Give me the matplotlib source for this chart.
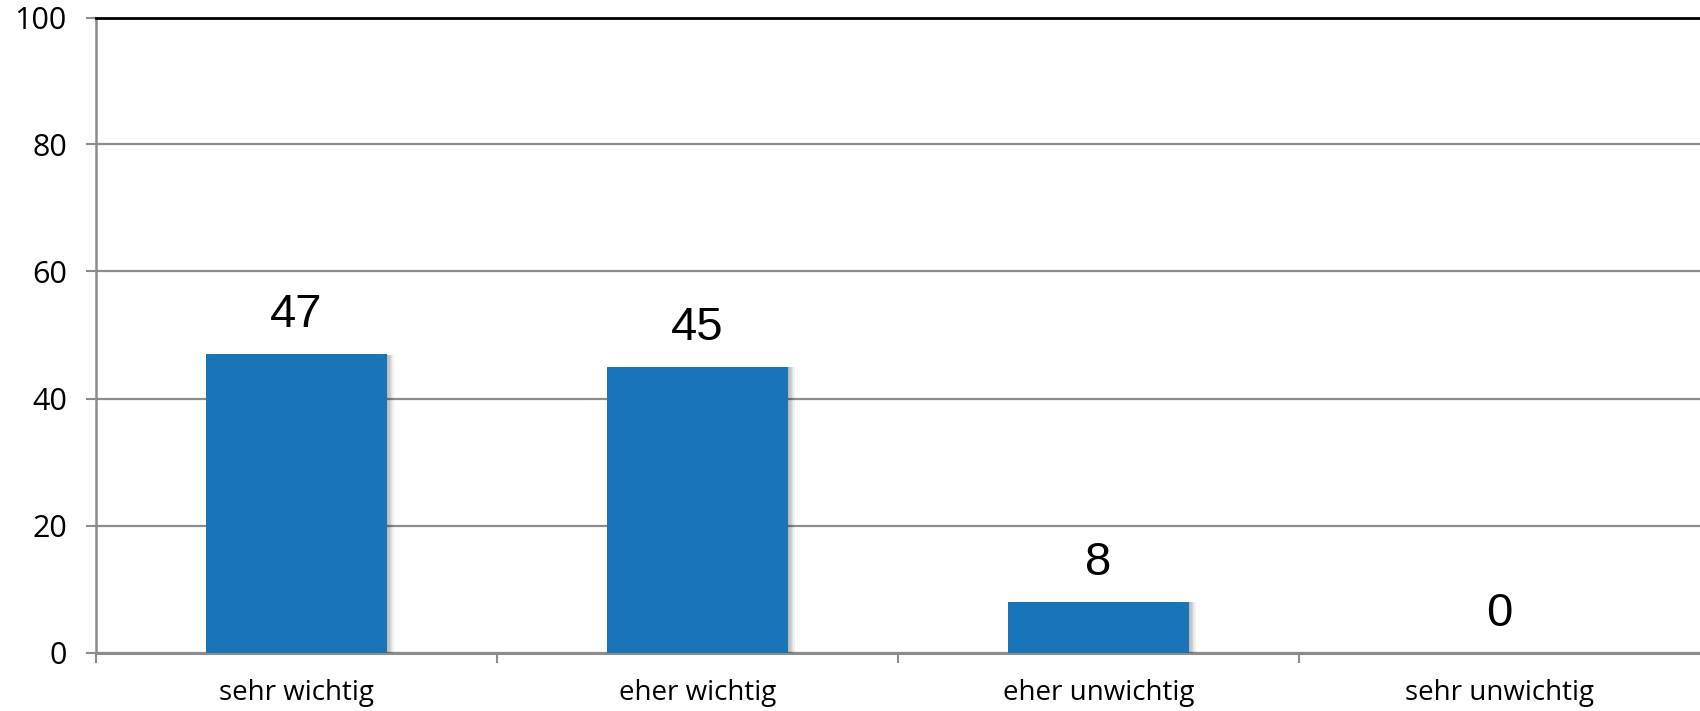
import matplotlib
matplotlib.use("Agg")
import matplotlib.pyplot as plt
import matplotlib.patheffects as pe
import numpy as np

categories = ["sehr wichtig", "eher wichtig", "eher unwichtig", "sehr unwichtig"]
values = [47, 45, 8, 0]
y_ticks = [0, 20, 40, 60, 80, 100]

plt.rcParams["font.family"] = ["Open Sans", "DejaVu Sans"]

fig = plt.figure(figsize=(17, 7.11), dpi=100)
ax = fig.add_axes([96 / 1700, 1 - 652.5 / 711, 1 - 96 / 1700, (652.5 - 17.5) / 711])

x = np.arange(len(categories))
bar_color = "#1a74b8"
shadow = [pe.SimplePatchShadow(offset=(d, -0.5), shadow_rgbFace="#000000", alpha=0.06)
          for d in (1, 2, 3, 4, 5)] + [pe.Normal()]
bars = ax.bar(x, values, width=0.45, color=bar_color, zorder=3)
for b in bars:
    b.set_path_effects(shadow)

for xi, v in zip(x, values):
    ax.annotate(str(v), (xi, v), xytext=(0, 12), textcoords="offset points",
                ha="center", va="bottom", fontsize=34, color="#000000",
                family=["Liberation Sans", "DejaVu Sans"])

ax.set_xlim(-0.5, len(categories) - 0.5)
ax.set_ylim(0, 100)
ax.set_yticks(y_ticks)
ax.set_yticklabels([str(t) for t in y_ticks], fontsize=22)
ax.yaxis.grid(True, color="#8c8c8c", linewidth=1.6, zorder=1)
ax.set_axisbelow(True)

# category labels centred, boundary ticks between categories
ax.set_xticks(x)
ax.set_xticklabels(categories, fontsize=20)
ax.tick_params(axis="x", length=0, pad=19)
ax.set_xticks(np.arange(len(categories)) - 0.5, minor=True)
ax.tick_params(axis="x", which="minor", length=7, width=1.5, color="#8c8c8c")
ax.tick_params(axis="y", length=7, width=1.5, color="#8c8c8c", pad=14)

ax.spines["right"].set_visible(False)
ax.spines["top"].set_color("#000000")
ax.spines["top"].set_linewidth(2)
ax.spines["left"].set_color("#8c8c8c")
ax.spines["left"].set_linewidth(1.8)
ax.spines["bottom"].set_color("#8c8c8c")
ax.spines["bottom"].set_linewidth(2.2)

fig.savefig("out.png", dpi=100)
